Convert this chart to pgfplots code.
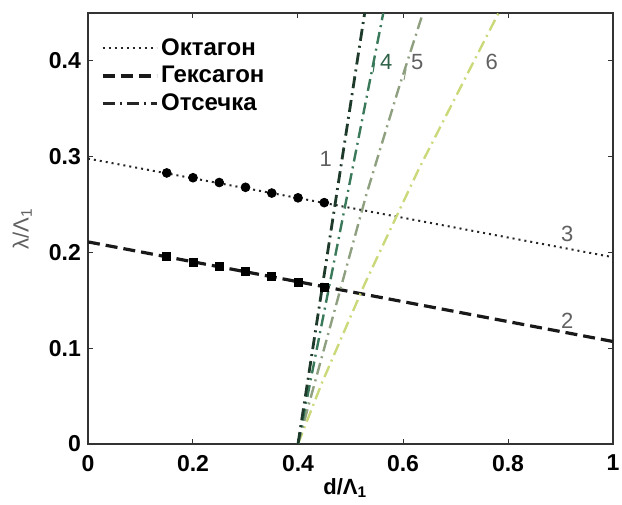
\documentclass[border=0pt]{standalone}
\usepackage{pgfplots}
\pgfplotsset{compat=1.18}
\usepackage{fontspec}
\setmainfont{Liberation Sans}

\definecolor{cut1}{HTML}{1E3A2A}
\definecolor{cut4}{HTML}{3A7A5A}
\definecolor{cut5}{HTML}{8FA080}
\definecolor{cut6}{HTML}{CCD97A}
\definecolor{lbl}{HTML}{606060}

\begin{document}
\begin{tikzpicture}
\begin{axis}[
  scale only axis,
  width=262.5pt,
  height=215.5pt,
  xmin=0, xmax=1,
  ymin=0, ymax=0.45,
  xtick={0,0.2,0.4,0.6,0.8,1},
  ytick={0,0.1,0.2,0.3,0.4},
  tick align=inside,
  major tick length=2.5pt,
  tick style={black!80, line width=0.5pt},
  axis line style={black!80, line width=0.9pt},
  ticklabel style={font=\bfseries\fontsize{11.5}{12}\selectfont},
  xticklabel style={yshift=-2pt},
  /pgf/number format/assume math mode=true,
  xlabel={\bfseries d/Λ\textsubscript{1}},
  ylabel={\color{lbl}λ/Λ\textsubscript{1}},
  xlabel style={font=\fontsize{11}{12}\selectfont, at={(axis description cs:0.49,-0.102)}, anchor=center},
  ylabel style={font=\fontsize{11}{12}\selectfont, at={(axis description cs:-0.125,0.5)}, anchor=center},
  legend image code/.code={\draw[#1] (0pt,0pt) -- (27pt,0pt);},
  legend style={draw=none, fill=none, at={(axis cs:0.024,0.427)}, anchor=north west,
    inner sep=0pt, row sep=1pt, nodes={inner sep=1.5pt},
    font=\bfseries\fontsize{12}{13}\selectfont},
  legend cell align=left,
]
% octagon
\addplot[black!85, line width=1pt, dash pattern=on 1pt off 2pt] coordinates {(0,0.298) (1,0.195)};
\addlegendentry{Октагон}
% hexagon
\addplot[black!90, line width=1.6pt, dash pattern=on 6pt off 3pt] coordinates {(0,0.211) (1,0.107)};
\addlegendentry{Гексагон}
\addlegendimage{black!85, line width=1.2pt, dash pattern=on 6pt off 2.5pt on 1pt off 2.5pt}
\addlegendentry{Отсечка}

% markers
\addplot[only marks, mark=*, mark size=2.2pt, black, forget plot] coordinates {
  (0.15,0.283) (0.20,0.278) (0.25,0.273) (0.30,0.268) (0.35,0.262) (0.40,0.257) (0.45,0.252)};
\addplot[only marks, mark=square*, mark size=2pt, black, forget plot] coordinates {
  (0.15,0.196) (0.20,0.190) (0.25,0.185) (0.30,0.180) (0.35,0.175) (0.40,0.169) (0.45,0.164)};

% cutoff lines
\addplot[cut6, line width=1.2pt, dash pattern=on 6pt off 2.5pt on 1pt off 2.5pt, forget plot]
  coordinates {(0.400,0) (0.445,0.063) (0.527,0.167) (0.630,0.287) (0.782,0.45)};
\addplot[cut5, line width=1.2pt, dash pattern=on 6pt off 2.5pt on 1pt off 2.5pt, forget plot]
  coordinates {(0.400,0) (0.530,0.260) (0.591,0.370) (0.638,0.45)};
\addplot[cut4, line width=1.2pt, dash pattern=on 6pt off 2.5pt on 1pt off 2.5pt, forget plot]
  coordinates {(0.400,0) (0.5625,0.45)};
\addplot[cut1, line width=1.4pt, dash pattern=on 6pt off 2.5pt on 1pt off 2.5pt, forget plot]
  coordinates {(0.400,0) (0.527,0.45)};

% curve labels
\node[lbl, font=\fontsize{11}{12}\selectfont] at (axis cs:0.453,0.298) {1};
\node[lbl, font=\fontsize{11}{12}\selectfont] at (axis cs:0.913,0.129) {2};
\node[lbl, font=\fontsize{11}{12}\selectfont] at (axis cs:0.913,0.219) {3};
\node[cut4!80!black, font=\fontsize{11}{12}\selectfont] at (axis cs:0.568,0.399) {4};
\node[lbl, font=\fontsize{11}{12}\selectfont] at (axis cs:0.627,0.399) {5};
\node[lbl, font=\fontsize{11}{12}\selectfont] at (axis cs:0.769,0.399) {6};
\draw[cut4, line width=0.5pt] (axis cs:0.543,0.388) -- (axis cs:0.546,0.398);
\draw[cut5, line width=0.5pt] (axis cs:0.602,0.380) -- (axis cs:0.606,0.392);
\end{axis}
\pgfresetboundingbox
\path ([xshift=-44pt,yshift=-30.5pt]current axis.south west) rectangle ([xshift=4.5pt,yshift=6.5pt]current axis.north east);
\end{tikzpicture}
\end{document}
